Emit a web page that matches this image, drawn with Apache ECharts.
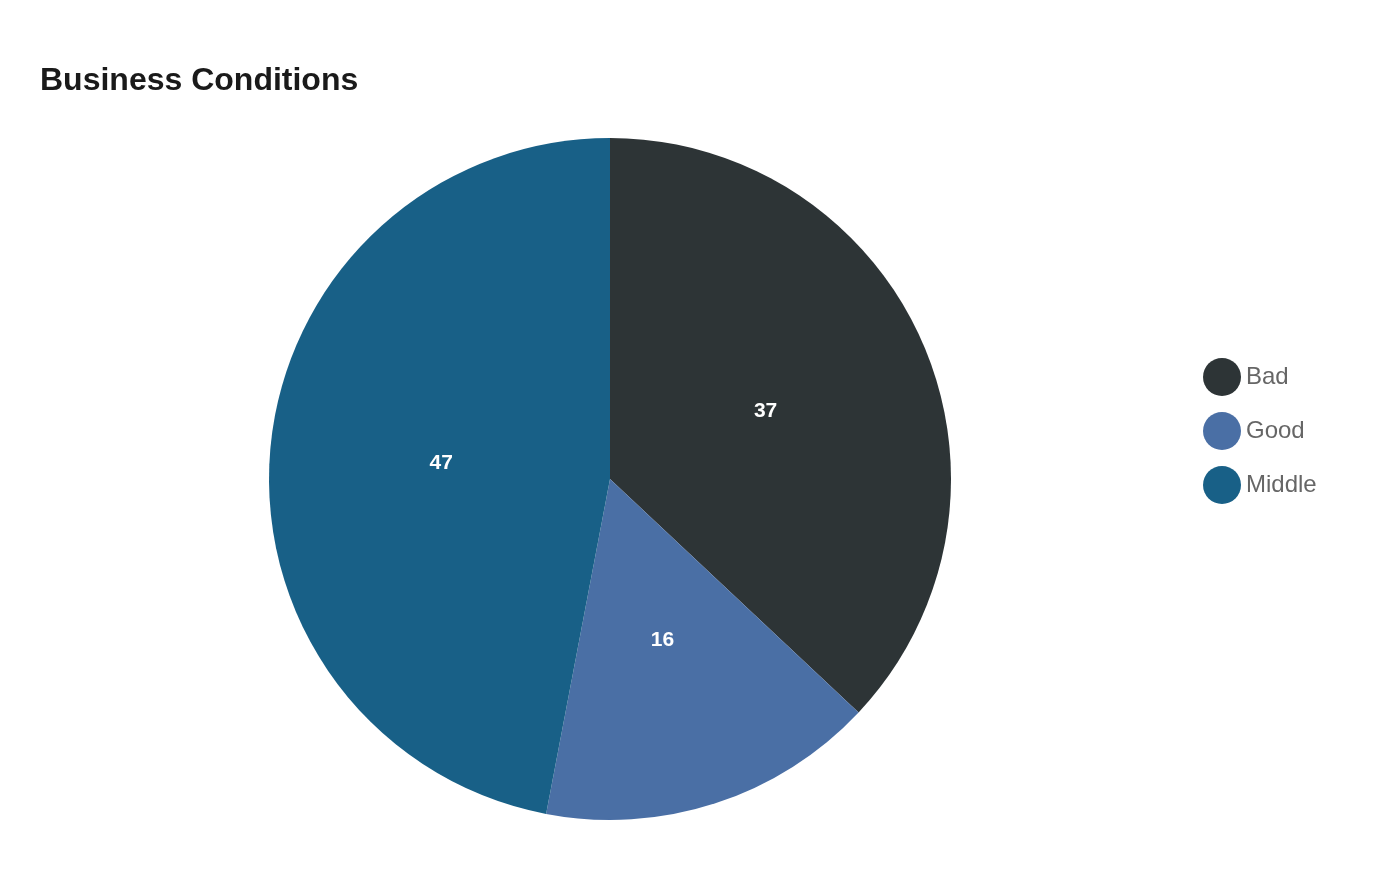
<!DOCTYPE html>
<html>
<head>
<meta charset="utf-8">
<script src="https://cdn.jsdelivr.net/npm/echarts@6/dist/echarts.min.js"></script>
<style>html,body{margin:0;padding:0;background:#fff}#c{width:1400px;height:880px}</style>
</head>
<body>
<div id="c"></div>
<script>
const categories = ['Bad', 'Good', 'Middle'];
const values = [37, 16, 47];
const colors = ['#2d3436', '#4a6fa5', '#186087'];

const pieData = categories.map((n, i) => ({ name: n, value: values[i] }));
const chart = echarts.init(document.getElementById('c'));
chart.setOption({
  animation: false,
  color: colors,
  title: {
    text: 'Business Conditions',
    left: 40,
    top: 65,
    padding: 0,
    textStyle: { fontFamily: 'Liberation Sans, Arial, sans-serif', fontSize: 32, fontWeight: 'bold', color: '#1a1a1a' }
  },
  legend: {
    orient: 'vertical',
    left: 1203,
    top: 358,
    padding: 0,
    icon: 'circle',
    itemWidth: 38,
    itemHeight: 38,
    itemGap: 16,
    data: categories,
    textStyle: { fontFamily: 'Liberation Sans, Arial, sans-serif', fontSize: 24, color: '#666' }
  },
  series: [{
    type: 'pie',
    center: [610, 479],
    radius: 341,
    startAngle: 90,
    clockwise: true,
    label: { show: false },
    labelLine: { show: false },
    itemStyle: { borderWidth: 0 },
    emphasis: { disabled: true },
    data: pieData
  }, {
    type: 'pie',
    center: [610, 479],
    radius: 333,
    startAngle: 90,
    clockwise: true,
    silent: true,
    label: {
      show: true,
      position: 'inside',
      formatter: '{c}',
      color: '#fff',
      padding: [7, 0, 0, 0],
      fontFamily: 'Liberation Sans, Arial, sans-serif',
      fontSize: 21,
      fontWeight: 'bold'
    },
    labelLine: { show: false },
    itemStyle: { color: 'rgba(0,0,0,0)', borderWidth: 0 },
    emphasis: { disabled: true },
    data: pieData
  }]
});
</script>
</body>
</html>
